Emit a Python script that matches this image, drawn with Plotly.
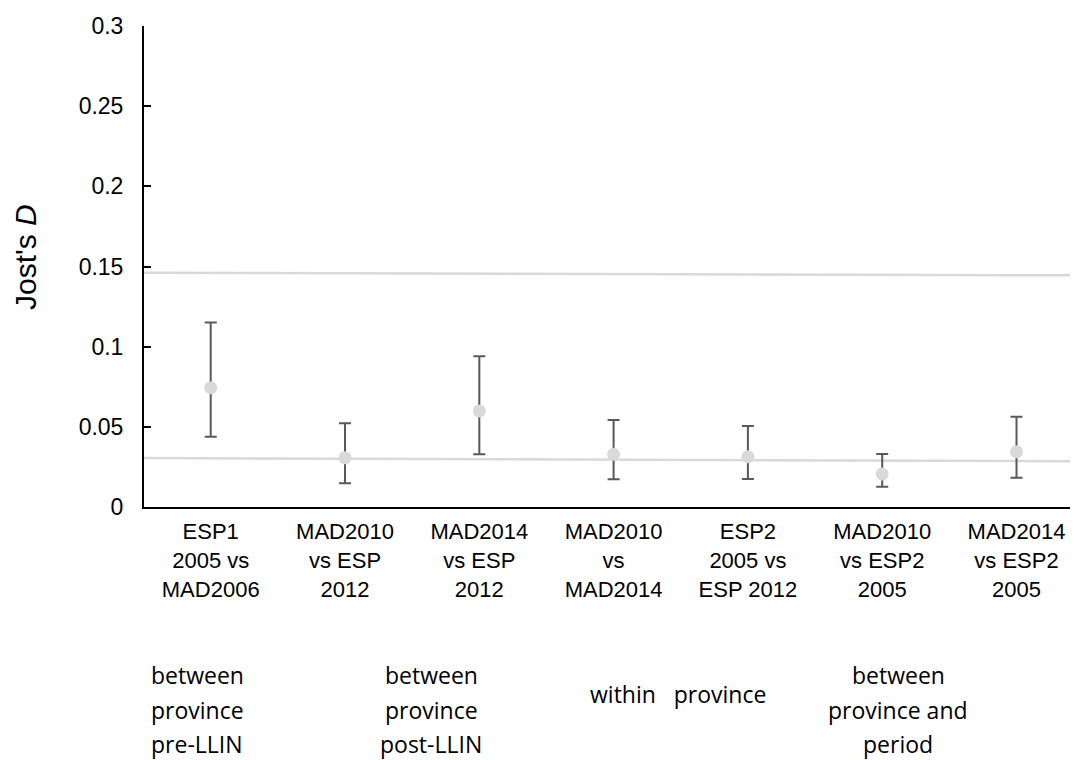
import plotly.graph_objects as go

# ---- data ----
categories = [
    "ESP1<br>2005 vs<br>MAD2006",
    "MAD2010<br>vs ESP<br>2012",
    "MAD2014<br>vs ESP<br>2012",
    "MAD2010<br>vs<br>MAD2014",
    "ESP2<br>2005 vs<br>ESP 2012",
    "MAD2010<br>vs ESP2<br>2005",
    "MAD2014<br>vs ESP2<br>2005",
]
jost_d = [0.0744, 0.0307, 0.0599, 0.0329, 0.0314, 0.0206, 0.0345]
ci_upper = [0.115, 0.0522, 0.094, 0.0543, 0.0505, 0.0331, 0.0563]
ci_lower = [0.0438, 0.0148, 0.0329, 0.0173, 0.0175, 0.0127, 0.0183]
ref_upper = [0.1461, 0.1445]
ref_lower = [0.0305, 0.0285]
y_ticks = [0, 0.05, 0.1, 0.15, 0.2, 0.25, 0.3]
y_tick_labels = ["0", "0.05", "0.1", "0.15", "0.2", "0.25", "0.3"]
group_labels = [
    ["between", "province", "pre-LLIN"],
    ["between", "province", "post-LLIN"],
    ["within   province"],
    ["between", "province and", "period"],
]

# ---- layout constants (page pixels; the page body adds an 8px offset) ----
OFF = 8
W, H = 1078 - OFF, 760 - OFF
L, T = 144 - OFF, 26 - OFF
PW = W - L
PH = 481
B = H - T - PH
x_lo = -0.4967
x_hi = x_lo + PW / 134.3


def px_to_paper_x(px):
    return (px - OFF - L) / PW


def px_to_paper_y(py):
    return (T + PH - (py - OFF)) / PH


xs = list(range(len(categories)))
err_plus = [u - m for u, m in zip(ci_upper, jost_d)]
err_minus = [m - l for m, l in zip(jost_d, ci_lower)]

fig = go.Figure()

for ref in (ref_upper, ref_lower):
    fig.add_trace(go.Scatter(
        x=[x_lo, x_hi], y=ref, mode="lines",
        line=dict(color="#d9d9d9", width=2.5),
        hoverinfo="skip", showlegend=False,
    ))

fig.add_trace(go.Scatter(
    x=xs, y=jost_d, mode="markers",
    marker=dict(color="#d9d9d9", size=13),
    error_y=dict(type="data", symmetric=False, array=err_plus,
                 arrayminus=err_minus, color="#595959", thickness=2, width=6),
    showlegend=False,
))

fig.update_xaxes(
    range=[x_lo, x_hi], tickmode="array", tickvals=xs, ticktext=categories,
    showline=True, linecolor="black", linewidth=2, ticks="",
    showgrid=False, zeroline=False,
    tickfont=dict(family="Liberation Sans, Arial", size=22, color="black"),
    ticklabelstandoff=4,
)
fig.update_yaxes(
    range=[0, 0.3], tickmode="array", tickvals=y_ticks, ticktext=y_tick_labels,
    showline=True, linecolor="black", linewidth=2,
    ticks="inside", ticklen=7, tickwidth=2, tickcolor="black",
    showgrid=False, zeroline=False,
    tickfont=dict(family="Liberation Sans, Arial", size=23, color="black"),
    ticklabelstandoff=14,
)

annotations = []
# y-axis title
annotations.append(dict(
    text="Jost's <i>D</i>", textangle=-90, showarrow=False,
    xref="paper", yref="paper",
    x=px_to_paper_x(25), y=px_to_paper_y(257), xanchor="center", yanchor="middle",
    font=dict(family="Liberation Sans, Arial", size=30, color="black"),
))

group_x = [197, 431, 678, 898]
line_y = [675, 710, 744]
for gx, lines in zip(group_x, group_labels):
    ys = [694] if len(lines) == 1 else line_y
    for txt, py in zip(lines, ys):
        annotations.append(dict(
            text=txt, showarrow=False, xref="paper", yref="paper",
            x=px_to_paper_x(gx), y=px_to_paper_y(py),
            xanchor="center", yanchor="middle",
            font=dict(family="Open Sans", size=23, color="black"),
        ))

fig.update_layout(
    width=W, height=H, margin=dict(l=L, r=0, t=T, b=B, pad=0),
    paper_bgcolor="white", plot_bgcolor="white",
    annotations=annotations, showlegend=False,
)

fig.write_html("out.html")
